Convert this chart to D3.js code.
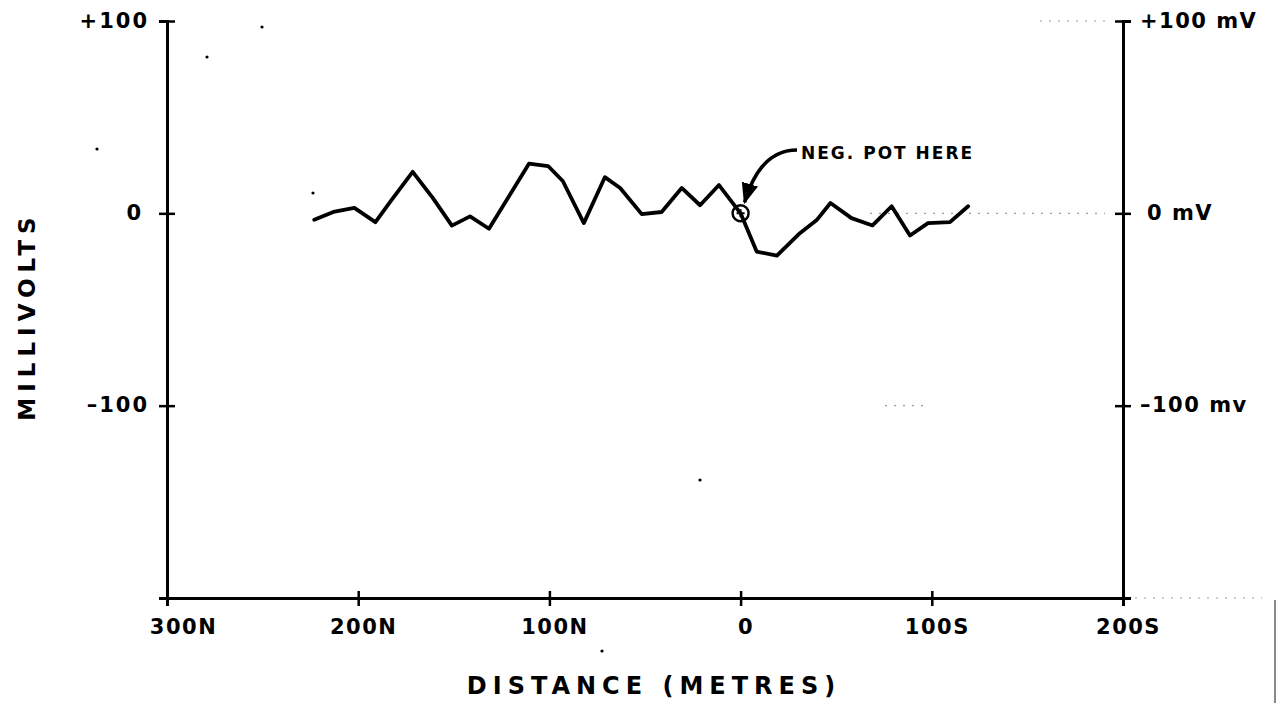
<html>
<head>
<script src="https://d3js.org/d3.v7.min.js"></script>
<style>
  body { margin: 0; background: #fff; }
  svg text { font-family: "DejaVu Sans", sans-serif; font-weight: bold; fill: #000; }
  .axis .domain { stroke: #000; stroke-width: 3; }
  .axis line { stroke: #000; stroke-width: 2.5; }
</style>
</head>
<body>
<svg id="chart" width="1278" height="703"></svg>
<script>
// distance along the traverse, metres (negative = north, positive = south)
const distance = [-223, -213, -202, -191, -183, -171.5, -161, -151, -141.5, -131.6,
                  -110.7, -100.7, -93, -82, -71, -63, -51.7, -41.3, -30.8, -21.2,
                  -11.3, 0, 8.4, 19, 31, 40, 47, 58, 69, 79, 88.6, 98, 109.5, 119];
// self potential, millivolts
const millivolts = [-3.3, 0.7, 2.8, -4.6, 6.3, 21.6, 8, -6.4, -1.6, -8,
                    25.8, 24.6, 16.8, -5.1, 18.8, 13.2, -0.4, 0.7, 13.2, 4.2,
                    14.7, 0, -19.9, -22, -10.3, -3.3, 5.4, -2.5, -6.3, 3.7, -11.5, -5.1, -4.6, 3.7];

const xTicks = [-300, -200, -100, 0, 100, 200];
const xTickLabels = ["300N", "200N", "100N", "0", "100S", "200S"];
const yTicks = [100, 0, -100];
const yTickLabels = ["+100", "0", "\u2013100"];
const yRightLabels = ["+100 mV", "0 mV", "\u2013100 mv"];

const svg = d3.select("#chart");
const x = d3.scaleLinear().domain([-300, 200]).range([167, 1123]);
const y = d3.scaleLinear().domain([-200, 100]).range([598, 21]);

// faint pencil dots left on the sheet
const dots = svg.append("g").attr("stroke", "#999").attr("stroke-width", 1.2).attr("stroke-dasharray", "2,7");
dots.append("line").attr("x1", 870).attr("x2", 1105).attr("y1", y(0)).attr("y2", y(0));
dots.append("line").attr("x1", 1040).attr("x2", 1108).attr("y1", y(100)).attr("y2", y(100));
dots.append("line").attr("x1", 885).attr("x2", 925).attr("y1", y(-100)).attr("y2", y(-100));
dots.append("line").attr("x1", 1135).attr("x2", 1262).attr("y1", y(-200)).attr("y2", y(-200));
[[207, 57], [262, 27], [313, 193], [700, 480], [97, 149], [602, 651]].forEach(p => {
  svg.append("circle").attr("cx", p[0]).attr("cy", p[1]).attr("r", 1.6).attr("fill", "#000");
});
svg.append("line").attr("x1", 1275).attr("x2", 1275).attr("y1", 600).attr("y2", 703)
   .attr("stroke", "#888").attr("stroke-width", 2);

// bottom axis
const xAxis = svg.append("g").attr("class", "axis")
  .attr("transform", "translate(0," + y(-200) + ")")
  .call(d3.axisBottom(x).tickValues(xTicks).tickFormat((d, i) => xTickLabels[i]).tickSizeOuter(0).tickSize(8));
xAxis.selectAll(".tick line").attr("y1", -7).attr("y2", 8);
xAxis.selectAll(".tick text").attr("font-size", 21).attr("y", 21).attr("letter-spacing", 1.5)
  .attr("dx", (d, i) => i == 0 ? 16 : 5);

// left axis
const yAxis = svg.append("g").attr("class", "axis")
  .attr("transform", "translate(" + x(-300) + ",0)")
  .call(d3.axisLeft(y).tickValues(yTicks).tickFormat((d, i) => yTickLabels[i]).tickSizeOuter(0).tickSize(8));
yAxis.selectAll(".tick line").attr("x1", -8).attr("x2", 8);
yAxis.selectAll(".tick text").attr("font-size", 21).attr("letter-spacing", 2).attr("dy", "0.3em")
  .attr("x", (d, i) => i == 1 ? -24 : -18);

// right axis
const yAxisR = svg.append("g").attr("class", "axis")
  .attr("transform", "translate(" + x(200) + ",0)")
  .call(d3.axisRight(y).tickValues(yTicks).tickFormat((d, i) => yRightLabels[i]).tickSizeOuter(0).tickSize(8));
yAxisR.selectAll(".tick line").attr("x1", -8).attr("x2", 8);
yAxisR.selectAll(".tick text").attr("font-size", 21).attr("letter-spacing", 1.5).attr("dy", "0.3em")
  .attr("x", (d, i) => i == 1 ? 24 : 17);

// the profile
const line = d3.line().x(d => x(d[0])).y(d => y(d[1]));
svg.append("path")
  .datum(distance.map((d, i) => [d, millivolts[i]]))
  .attr("d", line)
  .attr("fill", "none")
  .attr("stroke", "#000")
  .attr("stroke-width", 3.8)
  .attr("stroke-linejoin", "round")
  .attr("stroke-linecap", "round");

// marker at the anomaly
svg.append("circle").attr("cx", x(0)).attr("cy", y(0)).attr("r", 8)
  .attr("fill", "none").attr("stroke", "#000").attr("stroke-width", 2.5);
svg.append("path")
  .attr("d", `M${x(0) - 4},${y(0)}H${x(0) + 4}M${x(0)},${y(0) - 4}V${y(0) + 4}`)
  .attr("stroke", "#000").attr("stroke-width", 2);

// annotation and arrow
svg.append("defs").append("marker")
  .attr("id", "head").attr("viewBox", "0 0 10 10").attr("refX", 9).attr("refY", 5)
  .attr("markerWidth", 6).attr("markerHeight", 6).attr("orient", "auto")
  .append("path").attr("d", "M0,1L10,5L0,9Z").attr("fill", "#000");
svg.append("path")
  .attr("d", `M797,150 Q760,150 ${x(0) + 4},${y(0) - 11}`)
  .attr("fill", "none").attr("stroke", "#000").attr("stroke-width", 3.5)
  .attr("marker-end", "url(#head)");
svg.append("text").attr("x", 801).attr("y", 159).attr("font-size", 17)
  .attr("letter-spacing", 2).text("NEG. POT HERE");

// axis titles
svg.append("text").attr("transform", "translate(35,316) rotate(-90)")
  .attr("text-anchor", "middle").attr("font-size", 23).attr("font-weight", "normal")
  .attr("letter-spacing", 6).text("MILLIVOLTS");
svg.append("text").attr("x", 654).attr("y", 694)
  .attr("text-anchor", "middle").attr("font-size", 24).attr("font-weight", "normal")
  .attr("letter-spacing", 6).text("DISTANCE (METRES)");
</script>
</body>
</html>
